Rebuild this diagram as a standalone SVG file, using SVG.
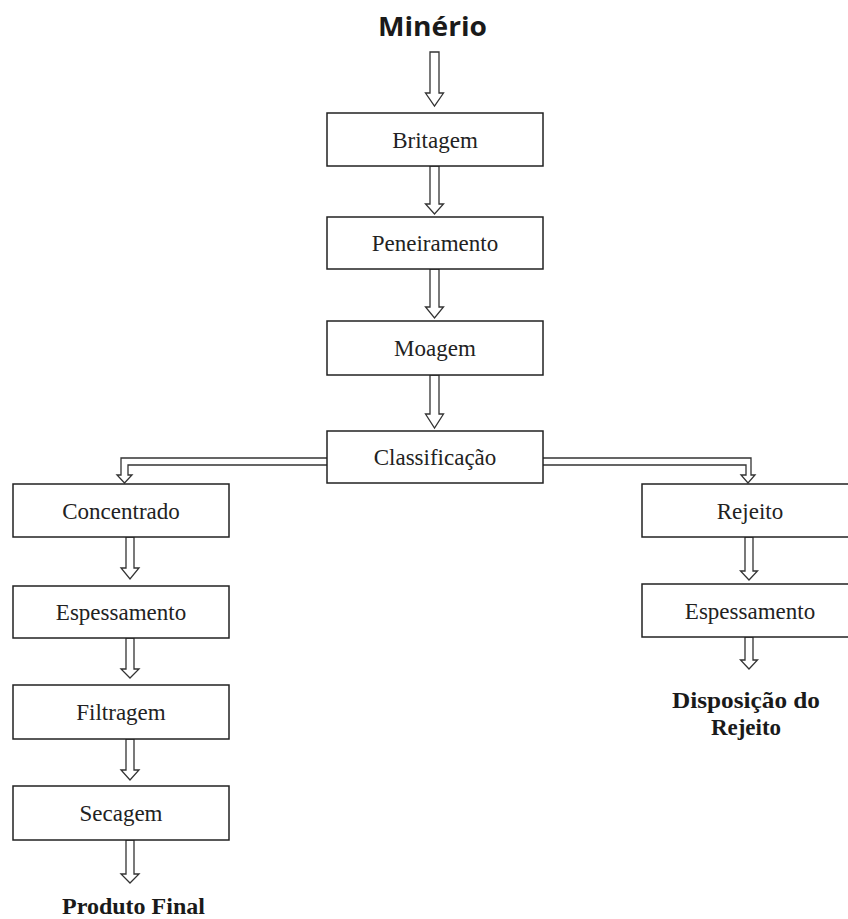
<svg xmlns="http://www.w3.org/2000/svg" width="848" height="919" viewBox="0 0 848 919">
<style>
.box rect{fill:#fff;stroke:#222;stroke-width:1.5}
.box text{font-family:"Liberation Serif","Times New Roman",serif;font-size:23px;fill:#222;text-anchor:middle}
.lbl{font-family:"Liberation Serif","Times New Roman",serif;font-size:23px;font-weight:bold;fill:#1a1a1a;text-anchor:middle}
.arr{fill:#fff;stroke:#333;stroke-width:1.3;stroke-linejoin:miter}
.ln{fill:none;stroke:#333;stroke-width:1.3}
</style>
<rect width="848" height="919" fill="#fff"/>
<text id="minerio" x="432.5" y="36" font-family="'Open Sans','Noto Sans',sans-serif" font-size="27" font-weight="bold" fill="#1a1a1a" text-anchor="middle" textLength="109" lengthAdjust="spacingAndGlyphs">Minério</text>
<g id="connectors">
<polygon class="arr" points="430,52 439,52 439,93 443.5,93 434.5,106 425.5,93 430,93"/>
<polygon class="arr" points="430,166 439,166 439,204 443.5,204 434.5,214 425.5,204 430,204"/>
<polygon class="arr" points="430,269 439,269 439,307 443.5,307 434.5,318 425.5,307 430,307"/>
<polygon class="arr" points="430,375 439,375 439,414 443.5,414 434.5,428 425.5,414 430,414"/>
<path class="ln" d="M327,458 H121 V475 H117 L124.5,483 L132,475 H128 V465 H327"/>
<path class="ln" d="M543,458 H751 V475 H755 L748,483 L741,475 H746 V465 H543"/>
<polygon class="arr" points="126,537 134,537 134,568 139,568 130,579 121,568 126,568"/>
<polygon class="arr" points="126,638 134,638 134,669 139,669 130,678 121,669 126,669"/>
<polygon class="arr" points="126,739 134,739 134,770 139,770 130,780 121,770 126,770"/>
<polygon class="arr" points="126,840 134,840 134,874 139,874 130,883 121,874 126,874"/>
<polygon class="arr" points="745,537 753,537 753,571 757.5,571 749,580 740.5,571 745,571"/>
<polygon class="arr" points="745,637 753,637 753,660 757.5,660 749,669 740.5,660 745,660"/>
</g>
<g id="britagem" class="box"><rect x="327" y="113" width="216" height="53"/><text x="435" y="148">Britagem</text></g>
<g id="peneiramento" class="box"><rect x="327" y="217" width="216" height="52"/><text x="435" y="251">Peneiramento</text></g>
<g id="moagem" class="box"><rect x="327" y="321" width="216" height="54"/><text x="435" y="356">Moagem</text></g>
<g id="classificacao" class="box"><rect x="327" y="431" width="216" height="52"/><text x="435" y="465">Classificação</text></g>
<g id="concentrado" class="box"><rect x="13" y="484" width="216" height="53"/><text x="121" y="519">Concentrado</text></g>
<g id="espessamento1" class="box"><rect x="13" y="586" width="216" height="52"/><text x="121" y="620">Espessamento</text></g>
<g id="filtragem" class="box"><rect x="13" y="685" width="216" height="54"/><text x="121" y="720">Filtragem</text></g>
<g id="secagem" class="box"><rect x="13" y="786" width="216" height="54"/><text x="121" y="821">Secagem</text></g>
<g id="rejeito" class="box"><rect x="642" y="484" width="216" height="53"/><text x="750" y="519">Rejeito</text></g>
<g id="espessamento2" class="box"><rect x="642" y="584" width="216" height="53"/><text x="750" y="619">Espessamento</text></g>
<g id="produto-final"><text class="lbl" x="133.5" y="914" textLength="143" lengthAdjust="spacingAndGlyphs">Produto Final</text></g>
<g id="disposicao"><text class="lbl" x="746" y="708" textLength="148" lengthAdjust="spacingAndGlyphs">Disposição do</text><text class="lbl" x="746" y="735">Rejeito</text></g>
</svg>
